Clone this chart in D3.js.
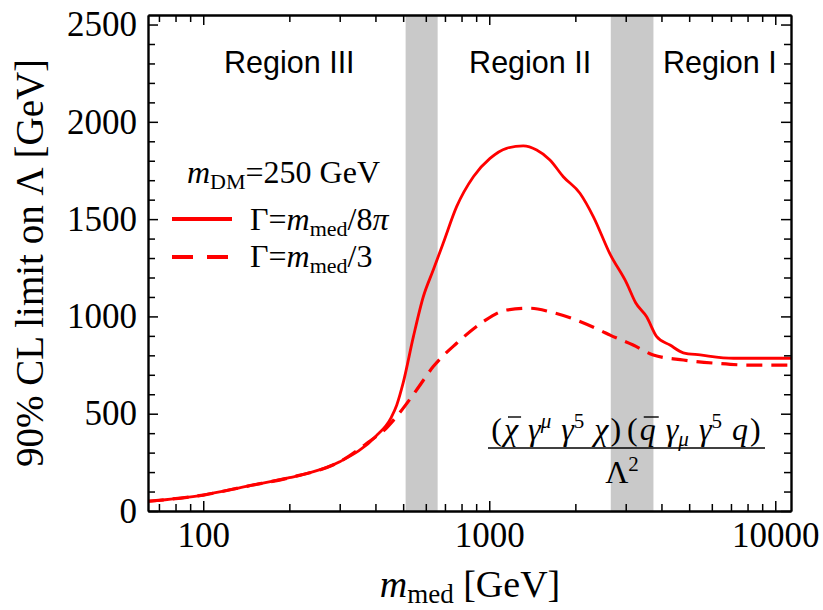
<!DOCTYPE html>
<html>
<head>
<meta charset="utf-8">
<script src="https://cdn.jsdelivr.net/npm/d3@7"></script>
<style>
  html, body { margin: 0; padding: 0; background: #fff; }
  svg { display: block; }
</style>
</head>
<body>
<svg id="chart" width="823" height="610"></svg>
<script>
// ---------------- data ----------------
const solidMass  = [64, 100, 143, 200, 300, 400, 454, 475, 500, 543, 588, 637, 690, 769, 880, 1006, 1150, 1315, 1465, 1630, 1815, 2075, 2313, 2645, 3025, 3250, 3550, 3850, 4285, 4770, 5460, 7150, 11350];
const solidLimit = [50, 82, 128, 171, 253, 382, 480, 545, 658, 896, 1101, 1238, 1376, 1564, 1718, 1812, 1864, 1876, 1855, 1804, 1718, 1633, 1512, 1320, 1170, 1070, 998, 896, 853, 813, 802, 785, 785];

const dashedMass  = [64, 100, 143, 200, 300, 400, 418, 474, 557, 637, 769, 953, 1150, 1388, 1630, 2020, 2470, 2645, 3185, 3745, 4770, 6230, 8160, 11350];
const dashedLimit = [50, 82, 128, 171, 253, 380, 400, 485, 622, 742, 862, 973, 1033, 1042, 1024, 981, 925, 904, 853, 802, 776, 759, 750, 750];

const bandLow  = [510, 2660];
const bandHigh = [660, 3750];

const regionNames = ["Region III", "Region II", "Region I"];
const regionMass  = [200, 1390, 6400];

const xMajorTicks = [100, 1000, 10000];
const xMinorTicks = [70, 80, 90, 200, 300, 400, 500, 600, 700, 800, 900, 2000, 3000, 4000, 5000, 6000, 7000, 8000, 9000];
const yMajorTicks = [0, 500, 1000, 1500, 2000, 2500];
const yMinorTicks = d3.range(0, 2550, 100).filter(v => v % 500 !== 0);

const xDomain = [64.1, 11350];
const yDomain = [0, 2549];

// ---------------- layout ----------------
const L = 148, R = 791, T = 15, B = 511;
const svg = d3.select("#chart");
const x = d3.scaleLog().domain(xDomain).range([L, R]);
const y = d3.scaleLinear().domain(yDomain).range([B, T]);
const serif = "'Liberation Serif', 'Times New Roman', serif";
const sans = "'Liberation Sans', Arial, sans-serif";
const red = "#ff0000";

// bands
svg.append("g").selectAll("rect").data(bandLow).join("rect")
  .attr("x", (d) => x(d))
  .attr("width", (d, i) => x(bandHigh[i]) - x(d))
  .attr("y", T).attr("height", B - T)
  .attr("fill", "#c9c9c9");

// curves
const solidData = solidMass.map((m, i) => [m, solidLimit[i]]);
const dashedData = dashedMass.map((m, i) => [m, dashedLimit[i]]);
const line = d3.line().x(d => x(d[0])).y(d => y(d[1])).curve(d3.curveMonotoneX);
svg.append("clipPath").attr("id", "clip").append("rect")
  .attr("x", L).attr("y", T).attr("width", R - L).attr("height", B - T);
svg.append("path").datum(dashedData).attr("d", line)
  .attr("fill", "none").attr("stroke", red).attr("stroke-width", 3.2)
  .attr("stroke-dasharray", "16,9").attr("clip-path", "url(#clip)");
svg.append("path").datum(solidData).attr("d", line)
  .attr("fill", "none").attr("stroke", red).attr("stroke-width", 2.8)
  .attr("clip-path", "url(#clip)");

// axes
function styleAxis(g) {
  g.selectAll("path.domain").attr("stroke", "#000").attr("stroke-width", 1.9);
  g.selectAll(".tick line").attr("stroke", "#000").attr("stroke-width", 1.5);
  g.selectAll("text").attr("font-family", serif).attr("font-size", 35).attr("fill", "#000");
}
const fmt = d3.format("d");
svg.append("g").attr("transform", `translate(0,${B})`)
  .call(d3.axisBottom(x).tickValues(xMinorTicks).tickSize(-7).tickSizeOuter(0).tickFormat(""))
  .call(styleAxis);
svg.append("g").attr("transform", `translate(0,${B})`)
  .call(d3.axisBottom(x).tickValues(xMajorTicks).tickSize(-10).tickSizeOuter(0).tickPadding(11).tickFormat(fmt))
  .call(styleAxis);
svg.append("g").attr("transform", `translate(0,${T})`)
  .call(d3.axisTop(x).tickValues(xMinorTicks).tickSize(-7).tickSizeOuter(0).tickFormat(""))
  .call(styleAxis);
svg.append("g").attr("transform", `translate(0,${T})`)
  .call(d3.axisTop(x).tickValues(xMajorTicks).tickSize(-10).tickSizeOuter(0).tickFormat(""))
  .call(styleAxis);
svg.append("g").attr("transform", `translate(${L},0)`)
  .call(d3.axisLeft(y).tickValues(yMinorTicks).tickSize(-7).tickSizeOuter(0).tickFormat(""))
  .call(styleAxis);
svg.append("g").attr("transform", `translate(${L},0)`)
  .call(d3.axisLeft(y).tickValues(yMajorTicks).tickSize(-10).tickSizeOuter(0).tickPadding(11).tickFormat(fmt))
  .call(styleAxis);
svg.append("g").attr("transform", `translate(${R},0)`)
  .call(d3.axisRight(y).tickValues(yMinorTicks).tickSize(-7).tickSizeOuter(0).tickFormat(""))
  .call(styleAxis);
svg.append("g").attr("transform", `translate(${R},0)`)
  .call(d3.axisRight(y).tickValues(yMajorTicks).tickSize(-10).tickSizeOuter(0).tickFormat(""))
  .call(styleAxis);

// region labels
svg.append("g").selectAll("text").data(regionNames).join("text")
  .attr("x", (d, i) => x(regionMass[i]))
  .attr("y", 73)
  .attr("text-anchor", "middle")
  .attr("font-family", sans).attr("font-size", 30.5)
  .text(d => d);

// helper to write rich text
function rich(parent, parts, attrs) {
  const t = parent.append("text").attr("font-family", serif);
  Object.entries(attrs).forEach(([k, v]) => t.attr(k, v));
  parts.forEach(p => {
    const s = t.append("tspan").text(p.t);
    if (p.i) s.attr("font-style", "italic");
    if (p.fs) s.attr("font-size", p.fs);
    if (p.dy) s.attr("dy", p.dy);
    if (p.dx) s.attr("dx", p.dx);
    if (p.id) s.attr("class", p.id);
  });
  return t;
}

// axis titles
rich(svg, [{t: "90% CL limit on Λ [GeV]"}],
  {"transform": "translate(43,263) rotate(-90)", "text-anchor": "middle", "font-size": 39});
rich(svg, [{t: "m", i: true}, {t: "med", fs: 27, dy: 6}, {t: " [GeV]", dy: -6}],
  {"x": 470, "y": 597, "text-anchor": "middle", "font-size": 38});

// legend
rich(svg, [{t: "m", i: true}, {t: "DM", fs: 22, dy: 6}, {t: "=250 GeV", dy: -6}],
  {"x": 187, "y": 183, "font-size": 32});
svg.append("line").attr("x1", 172).attr("x2", 232).attr("y1", 219).attr("y2", 219)
  .attr("stroke", red).attr("stroke-width", 4);
svg.append("line").attr("x1", 172).attr("x2", 232).attr("y1", 257).attr("y2", 257)
  .attr("stroke", red).attr("stroke-width", 4).attr("stroke-dasharray", "21,14");
rich(svg, [{t: "Γ="}, {t: "m", i: true}, {t: "med", fs: 22, dy: 6}, {t: "/8", dy: -6}, {t: "π", i: true}],
  {"x": 250, "y": 230, "font-size": 32});
rich(svg, [{t: "Γ="}, {t: "m", i: true}, {t: "med", fs: 22, dy: 6}, {t: "/3", dy: -6}],
  {"x": 250, "y": 267, "font-size": 32});

// formula
const num = rich(svg, [
  {t: "("}, {t: "χ", i: true, id: "bar1", dx: 2}, {t: " γ", i: true, dx: 2}, {t: "μ", i: true, fs: 21, dy: -12},
  {t: " γ", i: true, dy: 12, dx: 2}, {t: "5", fs: 21, dy: -12}, {t: " χ", i: true, dy: 12, dx: 2}, {t: ")", dx: 2},
  {t: "(", dx: 6}, {t: "q", i: true, id: "bar2", dx: 2}, {t: " γ", i: true, dx: 2}, {t: "μ", i: true, fs: 21, dy: 6},
  {t: " γ", i: true, dy: -6, dx: 2}, {t: "5", fs: 21, dy: -12}, {t: " q", i: true, dy: 12, dx: 2}, {t: ")", dx: 2}
], {"x": 626, "y": 440, "text-anchor": "middle", "font-size": 32});
["bar1", "bar2"].forEach(c => {
  const node = num.select("tspan." + c).node();
  const e = node.getExtentOfChar(0);
  svg.append("line").attr("x1", e.x + 4).attr("x2", e.x + e.width + 3)
    .attr("y1", e.y + 6).attr("y2", e.y + 6)
    .attr("stroke", "#000").attr("stroke-width", 1.4);
});
svg.append("line").attr("x1", 488).attr("x2", 765).attr("y1", 448).attr("y2", 448)
  .attr("stroke", "#000").attr("stroke-width", 1.5);
rich(svg, [{t: "Λ"}, {t: "2", fs: 21, dy: -12}],
  {"x": 622, "y": 483, "text-anchor": "middle", "font-size": 32});
</script>
</body>
</html>
